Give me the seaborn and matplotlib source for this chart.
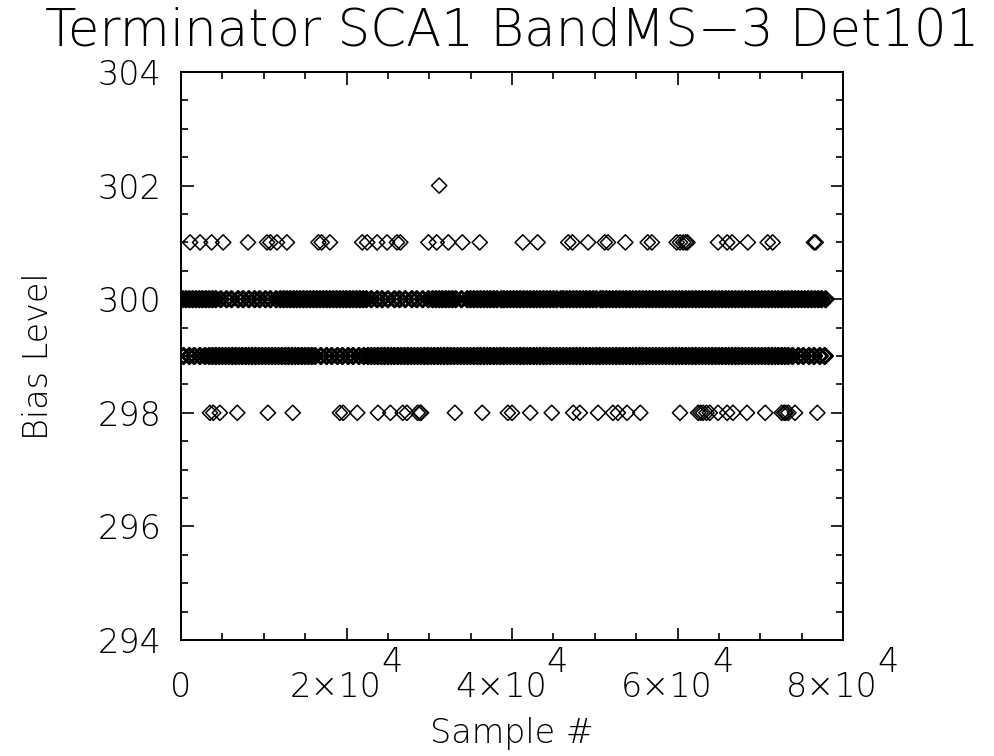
import matplotlib
matplotlib.use("Agg")
import matplotlib.pyplot as plt
from matplotlib.ticker import MultipleLocator
import seaborn as sns
import pandas as pd

# ---------------- data (x in thousands of samples) ----------------
row302_x = [31.2]
row301_x = [1.1, 2.3, 3.7, 5.1, 8.1, 10.4, 10.8, 11.6, 12.8, 16.6, 17.0, 18.0,
            21.9, 22.5, 23.7, 24.9, 26.1, 26.5, 29.9, 30.9, 32.3, 34.0, 36.1,
            41.3, 43.1, 46.8, 47.3, 49.2, 51.2, 51.6, 53.7, 56.4, 56.9, 59.9,
            60.3, 60.7, 61.0, 61.2, 64.9, 66.0, 66.6, 68.5, 70.9, 71.5, 76.5, 76.7]
row298_x = [3.5, 3.9, 4.7, 6.8, 10.5, 13.5, 19.2, 19.6, 21.3, 23.8, 25.3, 26.8,
            27.3, 28.6, 28.9, 29.0, 33.1, 36.4, 39.5, 40.0, 42.2, 44.8, 47.4, 48.2,
            50.4, 52.2, 52.8, 53.9, 55.5, 60.3, 62.5, 62.8, 63.1, 63.5, 63.9,
            64.9, 66.0, 66.7, 68.4, 70.6, 72.6, 72.9, 73.1, 73.4, 74.2, 76.9]
band300_x = [0.2, 0.6, 1.0, 1.4, 1.8, 2.2, 2.6, 3.0, 3.4, 3.8, 4.2,
             4.8, 5.5, 6.1, 6.9, 7.5, 8.2, 8.9, 9.5, 10.2, 10.8, 11.5,
             12.0, 12.4, 12.8, 13.2, 13.6, 14.0, 14.4, 14.8, 15.2, 15.6, 16.0,
             16.4, 16.8, 17.2, 17.6, 18.0, 18.4, 18.8, 19.2, 19.6, 20.0, 20.4,
             20.8, 21.2, 21.6, 22.0, 22.4,
             23.0, 23.7, 24.3, 25.0, 25.8, 26.4, 27.1, 27.9, 28.5, 29.2, 29.9, 30.4,
             30.8, 31.2, 31.6, 32.0, 32.4, 32.8, 33.2, 33.9, 34.6,
             35.0, 35.4, 35.8, 36.2, 36.6, 37.0, 37.4, 37.8, 38.2, 38.7, 39.0,
             39.4, 39.8, 40.2, 40.6, 41.0, 41.4, 41.8, 42.2, 42.6, 43.0, 43.4,
             43.8, 44.2, 44.6, 45.0, 45.4, 45.9, 46.2, 46.6, 47.0, 47.4, 47.8,
             48.2, 48.6, 49.0, 49.4, 49.8, 50.2, 50.7, 51.0, 51.4, 51.8, 52.2,
             52.6, 53.0, 53.4, 53.8, 54.2, 54.6, 55.0, 55.4, 55.8, 56.2, 56.6,
             57.0, 57.4, 57.8, 58.2, 58.6, 59.0, 59.4, 59.8, 60.2, 60.6, 61.0,
             61.4, 61.8, 62.2, 62.6, 63.0, 63.4, 63.8, 64.2, 64.6, 65.0, 65.4,
             65.8, 66.2, 66.6, 67.0, 67.4, 67.8, 68.2, 68.6, 69.0, 69.4, 69.8,
             70.2, 70.6, 71.0, 71.4, 71.8, 72.2, 72.6, 73.0, 73.4, 73.8, 74.2,
             74.6, 75.0, 75.4, 75.8, 76.2, 76.6, 77.0, 77.4, 77.9]
band299_x = [0.3, 1.0, 1.6, 2.3, 2.9, 3.4,
             3.8, 4.2, 4.6, 5.0, 5.4, 5.8, 6.2, 6.6, 7.0, 7.4, 7.8, 8.2, 8.6,
             9.0, 9.4, 9.8, 10.2, 10.6, 11.0, 11.4, 11.8, 12.2, 12.6, 13.0,
             13.4, 13.8, 14.2, 14.6, 15.0, 15.4, 15.8, 16.2,
             16.9, 17.6, 18.2, 18.9, 19.5, 20.2, 20.8, 21.5, 22.1,
             22.6, 23.0, 23.4, 23.8, 24.2, 24.6, 25.0, 25.4, 25.8, 26.2, 26.6,
             27.0, 27.4, 27.8, 28.2, 28.6, 29.0, 29.4, 29.8, 30.2, 30.6, 31.0,
             31.4, 31.8, 32.2, 32.6, 33.0, 33.4, 33.8, 34.2, 34.6, 35.0, 35.4,
             35.8, 36.2, 36.6, 37.0, 37.4, 37.8, 38.2, 38.6, 39.0, 39.4, 39.8,
             40.2, 40.6, 41.0, 41.4, 41.8, 42.2, 42.6, 43.0, 43.4, 43.8, 44.2,
             44.6, 45.0, 45.4, 45.8, 46.2, 46.6, 47.0, 47.4, 47.8, 48.2, 48.6,
             49.0, 49.4, 49.8, 50.2, 50.6, 51.0, 51.4, 51.8, 52.2, 52.6, 53.0,
             53.4, 53.8, 54.2, 54.6, 55.0, 55.4, 55.8, 56.2, 56.6, 57.0, 57.4,
             57.8, 58.2, 58.6, 59.0, 59.4, 59.8, 60.2, 60.6, 61.0, 61.4, 61.8,
             62.2, 62.6, 63.0, 63.4, 63.8, 64.2, 64.6, 65.0, 65.4, 65.8, 66.2,
             66.6, 67.0, 67.4, 67.8, 68.2, 68.6, 69.0, 69.4, 69.8, 70.2, 70.6,
             71.0, 71.4, 71.8, 72.2, 72.6, 73.0, 73.4,
             73.9, 74.6, 75.2, 75.9, 76.5, 77.2, 77.8]

y_ticks = [294, 296, 298, 300, 302, 304]
x_ticks = [0, 20000, 40000, 60000, 80000]
x_tick_bases = ["0", "2×10", "4×10", "6×10", "8×10"]
x_tick_exps = ["", "4", "4", "4", "4"]
title = "Terminator SCA1 BandMS\u22123 Det101"
xlabel = "Sample #"
ylabel = "Bias Level"


def frame(xs, level):
    return pd.DataFrame({"sample": [v * 1000 for v in xs], "bias": [level] * len(xs)})


sparse = pd.concat([frame(row302_x, 302), frame(row301_x, 301), frame(row298_x, 298)])
dense = pd.concat([frame(band300_x, 300), frame(band299_x, 299)])

# ---------------- style ----------------
sns.set_theme(style="white")
plt.rcParams["font.family"] = ["DejaVu Sans"]
plt.rcParams["font.weight"] = "light"
plt.rcParams["text.color"] = "black"
plt.rcParams["axes.labelcolor"] = "black"
plt.rcParams["xtick.color"] = "black"
plt.rcParams["ytick.color"] = "black"
FS = 24
TXT = dict(fontsize=FS, fontweight="light", color="black")

fig = plt.figure(figsize=(9.94, 7.56), dpi=100)
fig.patch.set_facecolor("white")
ax = fig.add_axes([181 / 994, 1 - 640 / 756, 662 / 994, 568 / 756])
ax.set_facecolor("white")

sns.scatterplot(data=dense, x="sample", y="bias", marker="D", s=60,
                facecolor="none", edgecolor="black", linewidth=2.2, ax=ax,
                legend=False)
sns.scatterplot(data=sparse, x="sample", y="bias", marker="D", s=60,
                facecolor="none", edgecolor="black", linewidth=1.1, ax=ax,
                legend=False)

ax.set_xlim(0, 80000)
ax.set_ylim(294, 304)
ax.set_yticks(y_ticks)
ax.set_yticklabels([str(t) for t in y_ticks], **TXT)
ax.yaxis.set_minor_locator(MultipleLocator(0.5))
ax.set_xticks(x_ticks)
ax.set_xticklabels([""] * len(x_ticks))
ax.xaxis.set_minor_locator(MultipleLocator(5000))

for spine in ax.spines.values():
    spine.set_visible(True)
    spine.set_color("black")
    spine.set_linewidth(1.4)

ax.tick_params(which="both", direction="in", top=True, right=True,
               bottom=True, left=True, color="black", width=1.2)
ax.tick_params(which="major", length=9)
ax.tick_params(which="minor", length=5)
ax.tick_params(axis="y", which="major", pad=14)

# x tick labels with full-size exponent
xtrans = ax.get_xaxis_transform()
for t, base, ex in zip(x_ticks, x_tick_bases, x_tick_exps):
    if ex == "":
        ax.annotate(base, xy=(t, 0), xycoords=xtrans, xytext=(0, -22),
                    textcoords="offset points", ha="center", va="top", **TXT)
    else:
        ax.annotate(base, xy=(t, 0), xycoords=xtrans, xytext=(25, -22),
                    textcoords="offset points", ha="right", va="top", **TXT)
        ax.annotate(ex, xy=(t, 0), xycoords=xtrans, xytext=(25, -4),
                    textcoords="offset points", ha="left", va="top", **TXT)

ax.set_xlabel(xlabel, labelpad=0, **TXT)
ax.xaxis.set_label_coords(0.5, -0.135)
ax.set_ylabel(ylabel, **TXT)
ax.yaxis.set_label_coords(-0.19, 0.5)
ax.set_title(title, fontsize=37, fontweight="light", color="black", pad=19)

fig.savefig("out.png", dpi=100, facecolor="white")
